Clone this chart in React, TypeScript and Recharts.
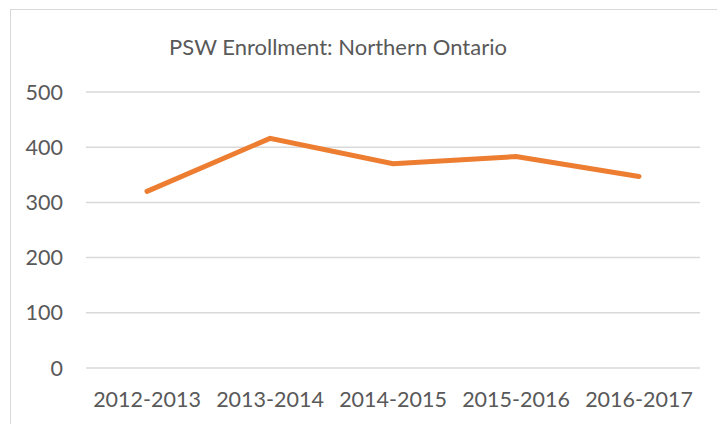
import { LineChart, Line, XAxis, YAxis, CartesianGrid } from "recharts";

const YEARS = ["2012-2013", "2013-2014", "2014-2015", "2015-2016", "2016-2017"];
const ENROLLMENT = [320, 416, 370, 383, 347];
const Y_TICKS = [0, 100, 200, 300, 400, 500];

const TEXT = "#595959";
const ORANGE = "#ED7D31";
const FONT = "Lato, 'Open Sans', sans-serif";

const data = YEARS.map((year, i) => ({ year, value: ENROLLMENT[i] }));

const tick = { fontSize: 21.5, fill: TEXT, fontFamily: FONT };

export default function App() {
  return (
    <div
      style={{
        position: "absolute",
        left: 0,
        top: 0,
        width: 717,
        height: 424,
        background: "#fff",
        overflow: "hidden",
      }}
    >
      <div
        style={{
          position: "absolute",
          left: 10,
          top: 9,
          width: 800,
          height: 500,
          borderLeft: "1px solid #d9d9d9",
          borderTop: "1px solid #d9d9d9",
        }}
      />
      <div
        style={{
          position: "absolute",
          left: 0,
          width: 676,
          top: 33,
          textAlign: "center",
          fontFamily: FONT,
          fontSize: 22,
          color: TEXT,
          lineHeight: "28px",
        }}
      >
        PSW Enrollment: Northern Ontario
      </div>
      <div style={{ position: "absolute", left: 0, top: 0 }}>
        <LineChart
          width={717}
          height={424}
          data={data}
          margin={{ top: 92, right: 17, left: 0, bottom: 0 }}
        >
          <CartesianGrid vertical={false} stroke="#d9d9d9" strokeWidth={1.5} />
          <XAxis
            dataKey="year"
            tick={tick}
            tickLine={false}
            axisLine={false}
            tickSize={0}
            tickMargin={24}
            interval={0}
            height={56}
            padding={{ left: 61, right: 61 }}
          />
          <YAxis
            domain={[0, 500]}
            ticks={Y_TICKS}
            tick={tick}
            tickLine={false}
            axisLine={false}
            tickSize={0}
            tickMargin={23}
            width={86}
          />
          <Line
            type="linear"
            dataKey="value"
            stroke={ORANGE}
            strokeWidth={5}
            dot={false}
            strokeLinecap="round"
            isAnimationActive={false}
          />
        </LineChart>
      </div>
    </div>
  );
}
